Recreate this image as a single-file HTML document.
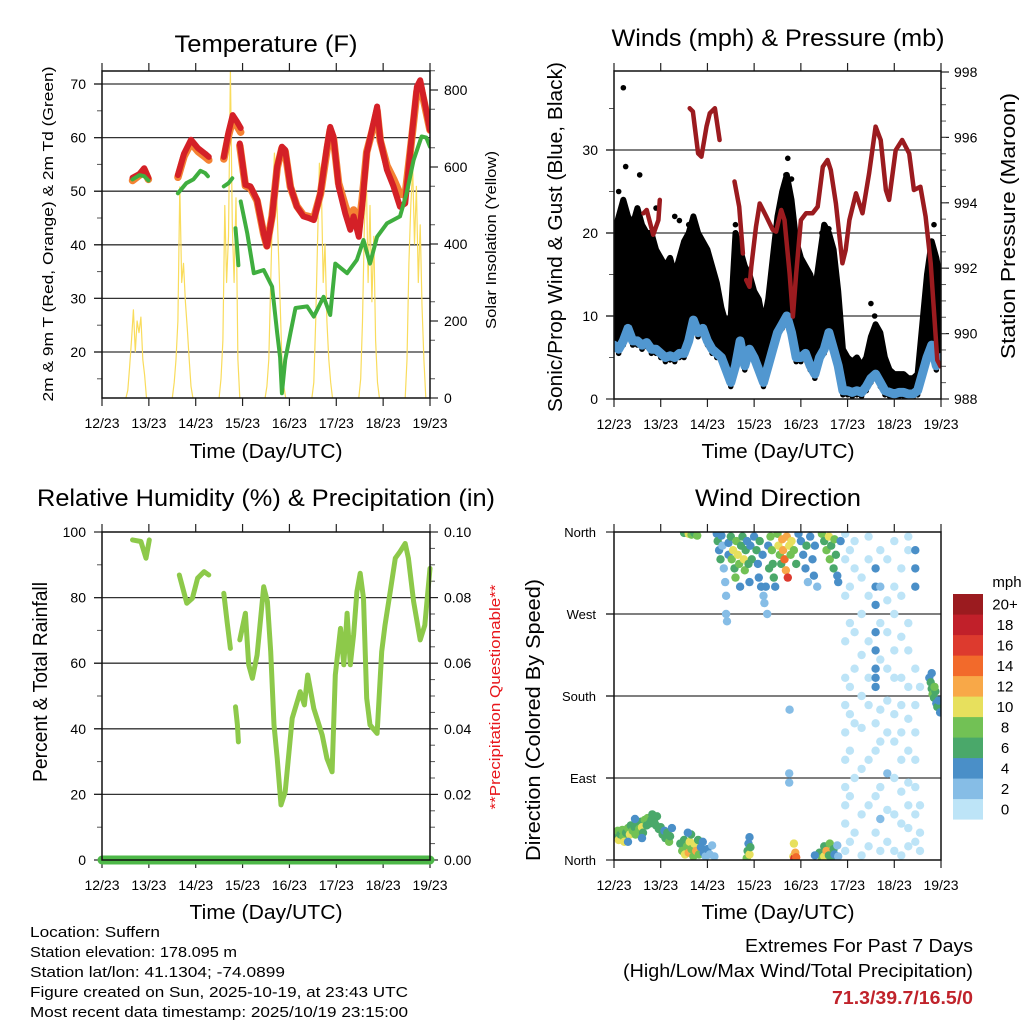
<!DOCTYPE html>
<html><head><meta charset="utf-8"><style>
html,body{margin:0;padding:0;background:#fff;}
svg{display:block;font-family:"Liberation Sans",Arial,sans-serif;}
</style></head><body>
<svg id="chart" width="1024" height="1024" viewBox="0 0 1024 1024" xmlns="http://www.w3.org/2000/svg">
<g id="layer"></g>
<!-- titles -->
<text x="266" y="52" font-size="24" text-anchor="middle" textLength="183" lengthAdjust="spacingAndGlyphs">Temperature (F)</text>
<text x="778" y="46" font-size="24" text-anchor="middle" textLength="333" lengthAdjust="spacingAndGlyphs">Winds (mph) &amp; Pressure (mb)</text>
<text x="266" y="506" font-size="24" text-anchor="middle" textLength="458" lengthAdjust="spacingAndGlyphs">Relative Humidity (%) &amp; Precipitation (in)</text>
<text x="778" y="506" font-size="24" text-anchor="middle" textLength="166" lengthAdjust="spacingAndGlyphs">Wind Direction</text>
<!-- x titles -->
<text x="266" y="458" font-size="20" text-anchor="middle" textLength="153" lengthAdjust="spacingAndGlyphs">Time (Day/UTC)</text>
<text x="778" y="458" font-size="20" text-anchor="middle" textLength="153" lengthAdjust="spacingAndGlyphs">Time (Day/UTC)</text>
<text x="266" y="919" font-size="20" text-anchor="middle" textLength="153" lengthAdjust="spacingAndGlyphs">Time (Day/UTC)</text>
<text x="778" y="919" font-size="20" text-anchor="middle" textLength="153" lengthAdjust="spacingAndGlyphs">Time (Day/UTC)</text>
<!-- y titles -->
<text transform="translate(53,234) rotate(-90)" font-size="15" text-anchor="middle" textLength="335" lengthAdjust="spacingAndGlyphs">2m &amp; 9m T (Red, Orange) &amp; 2m Td (Green)</text>
<text transform="translate(496,240) rotate(-90)" font-size="15" text-anchor="middle" textLength="178" lengthAdjust="spacingAndGlyphs">Solar Insolation (Yellow)</text>
<text transform="translate(562,237) rotate(-90)" font-size="20" text-anchor="middle" textLength="350" lengthAdjust="spacingAndGlyphs">Sonic/Prop Wind &amp; Gust (Blue, Black)</text>
<text transform="translate(1015,226) rotate(-90)" font-size="20" text-anchor="middle" textLength="266" lengthAdjust="spacingAndGlyphs">Station Pressure (Maroon)</text>
<text transform="translate(47,682) rotate(-90)" font-size="20" text-anchor="middle" textLength="200" lengthAdjust="spacingAndGlyphs">Percent &amp; Total Rainfall</text>
<text transform="translate(500,697) rotate(-90)" font-size="15" text-anchor="middle" fill="#e8161b" textLength="225" lengthAdjust="spacingAndGlyphs">**Precipitation Questionable**</text>
<text transform="translate(540,720) rotate(-90)" font-size="20" text-anchor="middle" textLength="282" lengthAdjust="spacingAndGlyphs">Direction (Colored By Speed)</text>
<!-- footer -->
<g font-size="15">
<text x="30" y="937" textLength="130" lengthAdjust="spacingAndGlyphs">Location: Suffern</text>
<text x="30" y="957" textLength="207" lengthAdjust="spacingAndGlyphs">Station elevation: 178.095 m</text>
<text x="30" y="977" textLength="255" lengthAdjust="spacingAndGlyphs">Station lat/lon: 41.1304; -74.0899</text>
<text x="30" y="997" textLength="378" lengthAdjust="spacingAndGlyphs">Figure created on Sun, 2025-10-19, at 23:43 UTC</text>
<text x="30" y="1017" textLength="378" lengthAdjust="spacingAndGlyphs">Most recent data timestamp: 2025/10/19 23:15:00</text>
</g>
<text x="973" y="952" font-size="18" text-anchor="end" textLength="228" lengthAdjust="spacingAndGlyphs">Extremes For Past 7 Days</text>
<text x="973" y="977" font-size="18" text-anchor="end" textLength="350" lengthAdjust="spacingAndGlyphs">(High/Low/Max Wind/Total Precipitation)</text>
<text x="973" y="1004" font-size="18" font-weight="bold" fill="#c0232b" text-anchor="end" textLength="141" lengthAdjust="spacingAndGlyphs">71.3/39.7/16.5/0</text>
</svg>
<script>
// ---------- data ----------
const dayLabels=['12/23','13/23','14/23','15/23','16/23','17/23','18/23','19/23'];
// Temperature 2m (red) segments: [t, F]
const tempT=[
[[0.65,52.5],[0.8,53.2],[0.9,54.3],[0.99,52.5]],
[[1.62,53],[1.75,57],[1.9,59.6],[2.05,58],[2.2,57],[2.28,56.4]],
[[2.6,56.4],[2.7,61],[2.79,64.2],[2.88,63],[2.96,61.8]],
[[2.94,58.9],[3.06,51.2],[3.17,50.9],[3.31,48.4],[3.45,42.1],[3.52,39.7],[3.63,45.3],[3.74,54.6],[3.84,58.3],[3.91,57.7],[4.02,50.9],[4.16,47.1],[4.30,45.3],[4.41,45.0],[4.52,44.6],[4.66,49.6],[4.80,58.3],[4.87,62.0],[4.94,60.2],[5.05,50.9],[5.19,45.9],[5.30,42.8],[5.37,45.3],[5.48,41.5],[5.55,47.1],[5.65,57.1],[5.76,61.4],[5.87,65.8],[5.94,59.6],[6.08,54.0],[6.22,50.9],[6.36,47.1],[6.47,47.7],[6.61,60.2],[6.72,69.5],[6.79,70.7],[6.89,66.4],[7.0,61.4]]
];
// Temperature 9m (orange) segments
const temp9=[
[[0.65,52],[0.8,53],[0.9,54],[0.99,52.2]],
[[1.62,52.6],[1.75,56.5],[1.9,59],[2.05,57.4],[2.2,56.4],[2.28,55.8]],
[[2.6,56],[2.7,60.4],[2.79,63.4],[2.88,62.2],[2.96,61]],
[[2.94,58.5],[3.06,51],[3.17,50.6],[3.31,48.2],[3.45,42],[3.52,39.8],[3.63,45.4],[3.74,54.4],[3.84,58],[3.91,57.4],[4.02,50.8],[4.16,47.2],[4.30,45.5],[4.41,45.3],[4.52,45],[4.66,49.4],[4.80,57.6],[4.87,61.4],[4.94,59.8],[5.05,51.5],[5.19,47.3],[5.30,44.5],[5.37,46.5],[5.48,43.2],[5.55,48.3],[5.65,57.3],[5.76,61],[5.87,65],[5.94,59.4],[6.08,54.8],[6.22,52.3],[6.36,49.5],[6.47,49.3],[6.61,59.8],[6.72,68.6],[6.79,70],[6.89,66],[7.0,61.4]]
];
// Dewpoint (green) segments
const dewT=[
[[0.65,52.2],[0.8,53],[0.9,52.8],[0.99,52]],
[[1.62,49.6],[1.8,51.5],[1.95,52.2],[2.1,53.8],[2.2,53.4],[2.26,52.8]],
[[2.6,50.9],[2.7,51.5],[2.78,52.4]],
[[2.85,43.1],[2.88,40],[2.91,36.2]],
[[2.96,48.1],[3.10,42.1],[3.24,34.7],[3.45,35.3],[3.63,32.2],[3.74,23.5],[3.80,19],[3.84,12.3],[3.91,18.5],[4.02,23.5],[4.13,28.2],[4.38,28.5],[4.52,26.6],[4.73,30.3],[4.87,26.9],[4.98,36.5],[5.23,34.7],[5.44,37.2],[5.58,40.9],[5.72,36.5],[5.87,41.5],[6.08,44.0],[6.36,45.3],[6.50,49.6],[6.65,55.8],[6.82,60.2],[6.92,60],[7.0,58.3]]
];
// Solar insolation: day start times, step 0.04 day
const solarStart=[0.51,1.50,2.50,3.48,4.48,5.48,6.47];
const solarVals=[
[0,20,80,150,229,120,200,170,210,100,60,0],
[0,40,100,200,548,300,350,250,180,100,30,0],
[0,50,150,500,300,420,852,450,300,520,100,0],
[0,30,100,300,500,636,560,400,250,100,30,0],
[0,40,200,400,610,560,300,400,200,100,40,0],
[0,50,200,450,580,300,500,250,420,150,40,0],
[0,100,350,500,596,400,550,300,450,240,100,0]
];
// Winds: step 0.1 day from t=0
const windMean=[6.5,6,7,8.5,7,7,6.5,6.8,6,6,5.5,5,5.2,5,5.5,5.5,7,9.5,8,8.5,7,6,5.5,5,3.5,2,4,7,4,6,5,3.5,2,4,6,8,9,10,8,5,5,5.5,4,3,5,6,8,6,4,1,1,0.8,1,0.8,1.5,2.5,3,2,1,0.8,0.6,0.8,0.8,0.6,0.6,1,3,5,6.5,4,5];
const windGust=[20,22,24,22,21,23,21,20,20,18,17,16,17,15,17,19,20,22,20,19,18,16,14,11,9,10,20,18,16,15,13,12,9,12,17,22,25,27,24,19,17,16,15,13,17,21,20,18,13,6,5,4.5,5,4,5,7.5,9,8,5,3.5,3,3,3,2.5,2.5,3,9,15,19,17,14];
const gustOutT=[0.2,0.25,0.55,0.1,1.3,1.4,1.6,3.72,3.68,3.8,4.45,4.6,5.5,6.85,0.9,2.6,5.58];
const gustOutV=[37.5,28,27,25,22,21.5,21,29,27,26.5,20,20.5,11.5,21,23,21,10];
// Pressure segments [t, mb]
const pressure=[
[[0.63,993.68],[0.70,993.78],[0.84,993.02],[0.95,993.47],[0.98,994.09]],
[[1.62,996.89],[1.69,996.79],[1.80,995.51],[1.87,995.41],[1.98,996.33],[2.05,996.74],[2.16,996.89],[2.26,995.92]],
[[2.58,994.65],[2.68,993.88],[2.76,992.45]],
[[2.83,991.64],[2.90,991.43],[2.94,992.05],[3.04,993.27],[3.12,993.98],[3.26,993.58],[3.40,993.17],[3.47,993.12],[3.58,993.78],[3.65,993.47],[3.76,991.84],[3.83,990.52],[3.90,991.84],[4.00,993.47],[4.11,993.68],[4.25,993.68],[4.36,993.88],[4.47,995.10],[4.57,995.31],[4.64,995.00],[4.75,993.98],[4.89,992.15],[4.96,992.56],[5.04,993.47],[5.18,994.29],[5.32,993.68],[5.46,994.90],[5.60,996.33],[5.71,995.92],[5.82,994.39],[5.89,994.09],[6.03,995.61],[6.17,995.92],[6.32,995.51],[6.42,994.39],[6.56,994.49],[6.67,993.58],[6.78,992.15],[6.92,989.19],[6.99,989.0]]
];
// Relative humidity segments [t, %]
const rh=[
[[0.65,97.6],[0.83,97.1],[0.94,92],[1.01,97.6]],
[[1.65,86.9],[1.81,78.3],[1.93,79.8],[2.04,85.9],[2.18,87.9],[2.28,86.9]],
[[2.6,81.3],[2.67,72.6],[2.74,64.5]],
[[2.85,46.7],[2.89,41.2],[2.91,36.0]],
[[2.94,67.1],[3.06,75.2],[3.13,59.5],[3.21,55.4],[3.31,62.5],[3.45,83.3],[3.53,78.8],[3.60,63.5],[3.67,41.2],[3.74,31.0],[3.82,16.8],[3.91,20.8],[4.06,43.2],[4.23,51.3],[4.32,47.3],[4.39,56.4],[4.52,46.2],[4.70,38.1],[4.80,31.0],[4.91,26.9],[4.98,56.4],[5.09,70.6],[5.16,59.5],[5.23,75.2],[5.30,59.5],[5.37,68.6],[5.44,81.8],[5.51,87.4],[5.58,79.8],[5.65,49.3],[5.72,41.2],[5.87,38.6],[5.97,63.5],[6.04,71.6],[6.15,81.8],[6.26,92.0],[6.36,94.0],[6.47,96.5],[6.54,92.0],[6.65,78.8],[6.79,67.1],[6.89,71.6],[7.0,88.9]]
];
const precipT=[0,7];
const precipV=[0,0];
// Wind direction scatter: time (day), direction (deg), speed (mph)
const dirT=[0.02,0.05,0.08,0.1,0.14,0.18,0.2,0.22,0.26,0.3,0.34,0.36,0.4,0.44,0.46,0.5,0.54,0.58,0.6,0.62,0.66,0.7,0.72,0.76,0.8,0.82,0.86,0.9,0.92,0.96,1.0,1.04,1.08,1.1,1.14,1.18,1.2,1.24,0.3,0.6,0.45,
1.42,1.46,1.5,1.52,1.56,1.6,1.62,1.66,1.7,1.72,1.76,1.8,1.82,1.86,1.9,1.92,1.96,2.0,2.05,2.1,2.15,1.65,1.58,
2.84,2.86,2.88,2.9,2.9,2.92,3.84,3.86,3.88,3.85,3.9,
4.4,4.45,4.5,4.5,4.55,4.6,4.62,4.65,4.7,4.72,4.78,4.8,4.3,
3.75,3.75,3.76,
1.5,1.6,1.66,1.72,1.78,
2.2,2.22,2.25,2.28,2.3,2.32,2.35,2.38,2.4,2.4,2.42,2.45,2.45,2.5,2.52,2.55,2.58,2.6,2.62,2.65,2.68,2.7,2.72,2.75,2.78,2.8,2.82,2.85,2.88,2.9,2.92,2.95,
3.0,3.05,3.08,3.1,3.12,3.15,3.18,3.2,3.22,3.25,3.28,3.3,3.32,3.35,3.38,3.4,3.42,3.45,
3.5,3.52,3.55,3.58,3.6,3.62,3.65,3.68,3.7,3.72,3.75,3.78,3.8,3.85,3.9,3.95,
4.0,4.05,4.1,4.12,4.15,4.2,4.25,4.28,4.3,4.35,
4.45,4.5,4.55,4.6,4.62,4.65,4.7,4.72,4.75,4.78,4.8,4.85,
4.95,4.95,4.95,4.95,4.95,4.95,4.95,4.95,4.95,4.95,4.95,4.95,
5.05,5.05,5.05,5.05,5.05,5.05,5.05,5.05,
5.15,5.15,5.15,5.15,5.15,5.15,5.15,
5.3,5.3,5.3,5.3,5.3,5.3,5.3,5.3,
5.45,5.45,5.45,5.45,5.45,5.45,5.45,5.45,5.45,
5.6,5.6,5.6,5.6,5.6,5.6,5.6,5.6,5.6,5.6,5.6,5.6,
5.7,5.7,5.7,5.7,5.7,5.7,5.7,5.7,5.7,
5.85,5.85,5.85,5.85,5.85,5.85,5.85,5.85,5.85,
6.0,6.0,6.0,6.0,6.0,6.0,6.0,6.0,6.0,6.0,
6.15,6.15,6.15,6.15,6.15,6.15,6.15,6.15,6.15,6.15,
6.3,6.3,6.3,6.3,6.3,6.3,6.3,6.3,6.3,6.3,6.3,
6.45,6.45,6.45,6.45,6.45,6.45,6.45,6.45,6.45,6.45,
6.55,6.55,6.55,6.55,
6.75,6.78,6.8,6.82,6.85,6.88,6.9,6.92,6.95,6.98,6.8,6.86];
const dirV=[30,25,32,22,28,33,26,20,30,35,28,38,32,36,28,40,34,42,36,30,44,38,46,40,44,50,42,38,48,34,36,28,32,24,30,20,26,35,20,24,45,
18,10,22,6,15,8,20,12,4,18,10,22,6,14,20,8,4,12,6,16,4,28,30,
2,10,18,25,6,14,4,2,8,18,3,
8,2,15,4,10,5,18,2,12,6,16,4,5,
95,85,165,
359,358,357,359,356,
358,350,340,330,356,345,320,305,290,270,262,348,335,355,330,340,320,310,350,335,325,300,345,355,330,318,340,350,325,305,345,330,
355,340,325,310,350,300,335,290,282,300,270,345,320,355,340,325,310,300,
358,345,335,325,352,340,330,318,355,310,345,335,350,340,325,358,
350,335,320,345,305,355,330,312,345,300,
358,350,340,355,330,345,320,352,335,312,305,350,
10,40,60,80,110,140,170,200,240,290,330,358,
20,70,120,160,190,260,300,340,
30,90,150,210,250,320,350,
5,50,100,145,180,225,270,310,
15,60,110,170,200,240,290,330,355,
190,200,210,230,250,280,300,320,30,70,120,150,
10,45,80,130,165,220,260,300,340,
20,55,95,140,175,210,250,285,330,
10,50,90,130,160,200,230,270,300,350,
5,40,75,110,140,170,200,245,290,320,
15,35,60,85,120,155,190,230,260,340,355,
20,50,80,110,140,170,210,340,320,300,
10,30,60,190,
200,195,188,182,178,185,172,168,175,162,205,190];
const dirS=[8,6,8,10,6,8,8,10,6,8,10,6,8,6,8,6,8,6,10,6,8,6,8,6,6,6,6,6,6,6,6,6,4,6,6,8,6,4,4,4,4,
6,8,6,10,8,12,10,8,8,10,12,6,8,4,4,4,2,4,2,2,2,6,4,
8,6,4,4,10,6,10,16,12,10,14,
6,8,6,10,12,6,8,6,6,4,2,2,4,
2,2,2,
6,10,8,6,8,
4,6,4,6,4,2,2,2,2,2,2,4,4,6,8,10,6,8,8,10,8,4,6,6,10,8,6,4,6,4,4,6,
4,6,4,4,6,4,4,2,2,4,2,4,6,8,8,6,6,4,
8,10,8,6,12,12,14,12,12,16,10,8,10,8,6,4,
4,4,4,6,2,4,4,4,4,2,
8,6,8,10,8,6,6,8,6,4,4,4,
0,0,0,0,0,0,0,0,0,0,0,0,
0,0,0,0,0,0,0,0,
0,0,0,0,0,0,0,
0,0,0,0,0,0,0,0,
0,0,0,0,0,0,0,0,0,
4,4,4,4,4,4,4,4,0,0,0,0,
0,2,0,0,0,0,0,2,0,
0,0,2,0,0,0,0,0,0,
0,0,0,0,0,0,0,0,0,0,
0,0,0,0,0,0,0,0,0,0,
0,0,0,0,0,0,0,0,0,0,0,
0,0,0,0,0,0,0,4,4,4,
0,0,0,0,
4,6,6,8,6,6,4,6,4,4,4,8];
const cbarLabels=['0','2','4','6','8','10','12','14','16','18','20+'];
const cbarColors=['#bde4f7','#86bde6','#4a8fc8','#4aa86a','#72c155','#e7e05d','#f8a848','#f26a2b','#dd3a2e','#c1202a','#9b1b1f'];
const tempTicks=[20,30,40,50,60,70];
const solarTicks=[0,200,400,600,800];
const windTicks=[0,10,20,30];
const presTicks=[988,990,992,994,996,998];
const rhTicks=[0,20,40,60,80,100];
const precipTicks=['0.00','0.02','0.04','0.06','0.08','0.10'];
const dirTicks=[0,90,180,270,360];
const dirTickLabels=['North','East','South','West','North'];

// ---------- helpers ----------
const NS='http://www.w3.org/2000/svg';
const layer=document.getElementById('layer');
function el(tag,attrs,parent){const e=document.createElementNS(NS,tag);for(const k in attrs)e.setAttribute(k,attrs[k]);(parent||layer).appendChild(e);return e;}
function grp(name){const g=el('g',{});


return g;}
const P1={x0:102,x1:430,y0:71,y1:398},P2={x0:614,x1:941,y0:71,y1:399},P3={x0:102,x1:430,y0:532,y1:860},P4={x0:614,x1:941,y0:532,y1:860};
const xs=P=>t=>P.x0+t*(P.x1-P.x0)/7;
const x1s=xs(P1),x2s=xs(P2),x3s=xs(P3),x4s=xs(P4);
const yT=v=>84+(70-v)*5.36, ySol=v=>398-v*0.385;
const yW=v=>399-8.3*v, yP=p=>399-(p-988)*32.7;
const yR=v=>860-3.28*v, yPr=v=>860-v*3280;
const yD=d=>860-d*0.9111;
function clipFor(P,id){const d=el('clipPath',{id});el('rect',{x:P.x0,y:P.y0,width:P.x1-P.x0,height:P.y1-P.y0},d);return 'url(#'+id+')';}
function line(g,segs,xf,yf,color,w,name){segs.forEach(s=>{const p=el('polyline',{points:s.map(d=>xf(d[0]).toFixed(1)+','+yf(d[1]).toFixed(1)).join(' '),fill:'none',stroke:color,'stroke-width':w,'stroke-linejoin':'round','stroke-linecap':'round'},g);

});}
function txt(g,x,y,s,size,anchor,name){const t=el('text',{x,y,'font-size':size,'text-anchor':anchor},g);t.textContent=s;

return t;}
function frame(P,name,gridY,leftTicks,leftMinor,rightTicks,rightMinor,xfn){
  const g=grp(name);
  gridY.forEach(y=>el('line',{x1:P.x0-8,x2:P.x1,y1:y,y2:y,stroke:'#333','stroke-width':1.3},g));
  leftTicks.forEach(y=>el('line',{x1:P.x0-8,x2:P.x0,y1:y,y2:y,stroke:'#222','stroke-width':1.2},g));
  leftMinor.forEach(y=>el('line',{x1:P.x0-5,x2:P.x0,y1:y,y2:y,stroke:'#555','stroke-width':1},g));
  rightTicks.forEach(y=>el('line',{x1:P.x1,x2:P.x1+8,y1:y,y2:y,stroke:'#222','stroke-width':1.2},g));
  rightMinor.forEach(y=>el('line',{x1:P.x1,x2:P.x1+5,y1:y,y2:y,stroke:'#555','stroke-width':1},g));
  for(let d=0;d<=7;d++){const x=xfn(d);
    el('line',{x1:x,x2:x,y1:P.y0-8,y2:P.y0,stroke:'#222','stroke-width':1.2},g);
    el('line',{x1:x,x2:x,y1:P.y1,y2:P.y1+8,stroke:'#222','stroke-width':1.2},g);
    txt(g,x,P.y1+30,dayLabels[d],14,'middle','x-tick-label');}
  return g;}
function box(P,name){const r=el('rect',{x:P.x0,y:P.y0,width:P.x1-P.x0,height:P.y1-P.y0,fill:'none',stroke:'#111','stroke-width':1.5});

}

// ---------- Panel 1: temperature ----------
{const range=(a,b,s)=>{const r=[];for(let v=a;v<=b+1e-9;v+=s)r.push(v);return r;};
 const g=frame(P1,'temperature-axes',tempTicks.map(yT),tempTicks.map(yT),range(15,65,10).map(yT),solarTicks.map(ySol),range(50,850,100).map(ySol),x1s);
 tempTicks.forEach(v=>txt(g,86,yT(v)+5,String(v),14,'end','temp-tick-label'));
 solarTicks.forEach(v=>txt(g,444,ySol(v)+5,String(v),14,'start','solar-tick-label'));
 const cl=clipFor(P1,'c1');const d=grp('temperature-series');d.setAttribute('clip-path',cl);
 solarStart.forEach((s,i)=>{const seg=solarVals[i].map((v,j)=>[s+j*0.04,v]);line(d,[seg],x1s,ySol,'#f9dc5c',1.2,'solar-line');});
 line(d,temp9,x1s,yT,'#f48233',7.5,'temp-9m-line');
 line(d,tempT,x1s,yT,'#d42027',6,'temp-2m-line');
 line(d,dewT,x1s,yT,'#3fae3f',4,'dewpoint-line');
 box(P1,'temperature-frame');}

// ---------- Panel 2: winds ----------
{const range=(a,b,s)=>{const r=[];for(let v=a;v<=b+1e-9;v+=s)r.push(v);return r;};
 const g=frame(P2,'winds-axes',[10,20,30].map(yW),windTicks.map(yW),[5,15,25,35].map(yW),presTicks.map(yP),range(988.5,997.5,0.5).map(yP),x2s);
 windTicks.forEach(v=>txt(g,598,yW(v)+5,String(v),14,'end','wind-tick-label'));
 presTicks.forEach(v=>txt(g,954,yP(v)+5,String(v),14,'start','pressure-tick-label'));
 const cl=clipFor(P2,'c2');const d=grp('winds-series');d.setAttribute('clip-path',cl);
 windGust.forEach((v,i)=>{const t=i*0.1;const b=el('line',{x1:x2s(t),x2:x2s(t),y1:yW(Math.max(0,windMean[i]-0.5)),y2:yW(v),stroke:'#000','stroke-width':5.5,'stroke-linecap':'round'},d);
 
 });
 line(d,[windGust.map((v,i)=>[i*0.1,v])],x2s,yW,'#000',6,'gust-envelope');
 gustOutT.forEach((t,i)=>{const c=el('circle',{cx:x2s(t),cy:yW(gustOutV[i]),r:2.8,fill:'#000'},d);
 
 });
 line(d,[windMean.map((v,i)=>[i*0.1,v])],x2s,yW,'#5197d0',9,'wind-mean-line');
 line(d,pressure,x2s,yP,'#9b1b1f',4.5,'pressure-line');
 box(P2,'winds-frame');}

// ---------- Panel 3: RH ----------
{const g=frame(P3,'humidity-axes',[20,40,60,80].map(yR),rhTicks.map(yR),[10,30,50,70,90].map(yR),[0,0.02,0.04,0.06,0.08,0.1].map(yPr),[0.005,0.01,0.015,0.025,0.03,0.035,0.045,0.05,0.055,0.065,0.07,0.075,0.085,0.09,0.095].map(yPr),x3s);
 rhTicks.forEach(v=>txt(g,86,yR(v)+5,String(v),14,'end','rh-tick-label'));
 precipTicks.forEach((s,i)=>txt(g,444,yPr(i*0.02)+5,s,14,'start','precip-tick-label'));
 const d=grp('humidity-series');
 line(d,[precipT.map((t,i)=>[t,precipV[i]])],x3s,yPr,'#4db848',9,'precip-line');
 line(d,rh,x3s,yR,'#8dc94a',5,'rh-line');
 box(P3,'humidity-frame');}

// ---------- Panel 4: wind direction ----------
{const g=frame(P4,'direction-axes',[90,180,270].map(yD),dirTicks.map(yD),[],[],[],x4s);
 dirTicks.forEach((v,i)=>txt(g,596,yD(v)+5,dirTickLabels[i],13,'end','direction-tick-label'));
 const cl=clipFor(P4,'c4');const d=grp('direction-points');d.setAttribute('clip-path',cl);
 dirT.forEach((t,i)=>{const idx=Math.min(10,Math.floor(dirS[i]/2));const c=el('circle',{cx:x4s(t).toFixed(1),cy:yD(dirV[i]).toFixed(1),r:4.2,fill:cbarColors[idx]},d);
 
 });
 box(P4,'direction-frame');
 const cb=grp('speed-colorbar');
 cbarColors.forEach((c,i)=>{const y=594+(10-i)*20.5;const r=el('rect',{x:953,y:y,width:30,height:20.6,fill:c},cb);
 
 
 txt(cb,1005,y+15.5,cbarLabels[i],15,'middle','colorbar-label');});
 txt(cb,1007,587,'mph',15,'middle','colorbar-title');}
</script>
</body></html>
